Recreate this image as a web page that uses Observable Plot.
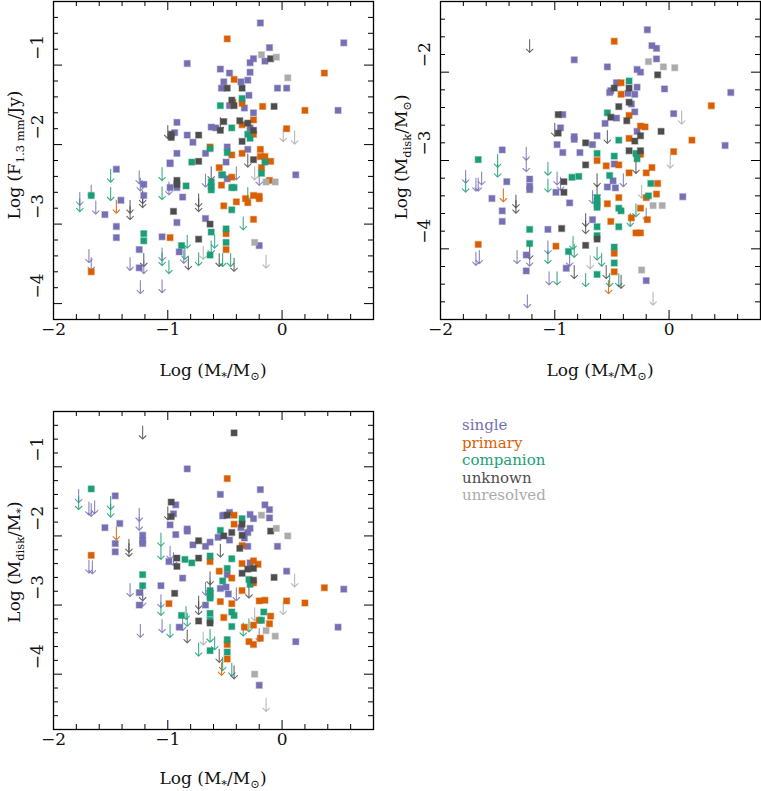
<!DOCTYPE html>
<html><head><meta charset="utf-8">
<script src="https://cdn.jsdelivr.net/npm/d3@7"></script>
<script src="https://cdn.jsdelivr.net/npm/@observablehq/plot@0.6"></script>
<style>
body{margin:0;background:#fff;}
#root{position:relative;width:761px;height:791px;overflow:hidden;background:#fff;font-family:"DejaVu Serif",serif;}
.panel{position:absolute;}
#legend{position:absolute;left:462px;top:417px;font-size:15px;line-height:17.5px;font-family:"DejaVu Serif",serif;}
</style></head><body><div id="root"></div>
<script>
const FONT = "DejaVu Serif";
const classCodes = ["S","P","C","U","R"];
const classNames = ["single","primary","companion","unknown","unresolved"];
const classColors = ["#7570b3","#d95f02","#1b9e77","#4d4d4d","#ababab"];
const xDomain = [-2, 0.8];
const xTicksMajor = [-2, -1, 0];

// Panel 1: Log F(1.3mm) vs Log M*  — detections [x, y, class]
const fluxDetections = [
[-0.19,-0.47,"S"],[-0.48,-0.67,"P"],[0.54,-0.72,"S"],[-0.11,-0.78,"S"],[-0.18,-0.87,"R"],[-0.05,-0.90,"R"],[-0.10,-0.92,"U"],[-0.15,-0.95,"S"],[-0.25,-0.92,"S"],[-0.28,-0.97,"S"],
[-0.83,-0.98,"S"],[-0.54,-1.05,"S"],[-0.28,-1.09,"S"],[-0.46,-1.10,"S"],[0.37,-1.10,"P"],[0.05,-1.16,"R"],[-0.42,-1.18,"P"],[-0.51,-1.21,"S"],[-0.36,-1.21,"S"],[-0.30,-1.19,"S"],
[-0.53,-1.29,"S"],[-0.48,-1.29,"U"],[-0.35,-1.29,"U"],[-0.04,-1.29,"S"],[0.04,-1.29,"S"],[-0.29,-1.38,"S"],[-0.44,-1.44,"U"],[-0.35,-1.42,"C"],[-0.35,-1.48,"P"],[-0.43,-1.47,"P"],
[-0.42,-1.51,"U"],[-0.54,-1.51,"C"],[-0.46,-1.51,"S"],[-0.33,-1.54,"S"],[-0.17,-1.52,"P"],[-0.07,-1.52,"U"],[0.20,-1.57,"P"],[0.49,-1.57,"S"],[-0.25,-1.60,"S"],[-0.51,-1.71,"U"],
[-0.37,-1.70,"U"],[-0.25,-1.69,"P"],[-0.30,-1.73,"U"],[-0.35,-1.75,"P"],[-0.92,-1.72,"S"],[-0.62,-1.78,"S"],[-0.58,-1.79,"S"],[-0.44,-1.79,"C"],[0.04,-1.80,"P"],[-0.25,-1.82,"U"],
[-0.54,-1.82,"U"],[-0.94,-1.85,"S"],[-0.97,-1.87,"U"],[-0.97,-1.91,"U"],[-0.83,-1.88,"S"],[-0.73,-1.88,"U"],[-0.78,-1.97,"S"],[-0.28,-1.79,"S"],[-0.25,-1.87,"P"],[-0.30,-1.87,"C"],
[-0.28,-1.92,"C"],[-0.35,-1.96,"U"],[-0.63,-2.03,"P"],[-0.63,-2.05,"C"],[-0.92,-2.11,"S"],[-0.67,-2.11,"S"],[-0.98,-2.23,"S"],[-0.79,-2.22,"C"],[-0.73,-2.21,"U"],[-0.30,-2.06,"S"],
[-0.19,-2.06,"P"],[-0.48,-2.03,"S"],[-0.48,-2.10,"C"],[-0.44,-2.13,"P"],[-0.35,-2.11,"P"],[-0.19,-2.15,"P"],[-0.15,-2.15,"P"],[-0.10,-2.21,"P"],[-0.25,-2.19,"U"],[-0.15,-2.22,"C"],
[-0.18,-2.29,"P"],[-0.18,-2.36,"C"],[-0.49,-2.22,"S"],[-0.55,-2.29,"P"],[-0.53,-2.38,"S"],[-0.52,-2.38,"C"],[-0.44,-2.41,"P"],[-0.48,-2.43,"S"],[0.12,-2.38,"S"],[-0.11,-2.45,"P"],
[-0.14,-2.47,"R"],[-0.06,-2.47,"R"],[-0.44,-2.54,"C"],[-0.42,-2.54,"C"],[-0.53,-2.51,"P"],[-0.25,-2.64,"P"],[-0.20,-2.65,"P"],[-0.20,-2.68,"P"],[-0.32,-2.68,"P"],[-0.30,-2.73,"P"],
[-0.40,-2.72,"P"],[-0.51,-2.77,"P"],[-0.44,-2.82,"C"],[-0.25,-2.94,"P"],[-0.63,-3.00,"U"],[-0.49,-3.06,"C"],[-0.49,-3.12,"P"],[-0.49,-3.23,"C"],[-0.49,-3.32,"P"],[-0.24,-3.23,"R"],
[-0.20,-3.27,"S"],[-0.63,-3.39,"C"],[-1.45,-2.31,"S"],[-1.41,-2.70,"S"],[-1.67,-2.64,"C"],[-1.55,-2.88,"S"],[-1.45,-3.03,"S"],[-1.45,-3.17,"S"],[-1.21,-2.50,"S"],[-1.21,-2.64,"S"],
[-1.25,-3.32,"S"],[-1.25,-3.55,"S"],[-1.21,-3.12,"C"],[-1.21,-3.21,"C"],[-1.67,-3.60,"P"],[-1.05,-3.16,"S"],[-0.98,-3.17,"P"],[-0.98,-2.24,"S"],[-0.98,-2.54,"S"],[-0.92,-2.45,"U"],
[-0.92,-2.50,"U"],[-0.92,-2.54,"S"],[-0.87,-2.66,"S"],[-0.84,-2.52,"C"],[-0.95,-2.84,"U"],[-0.92,-2.98,"S"],[-0.67,-2.93,"S"],[-0.62,-2.47,"C"],[-0.62,-2.53,"C"],[-0.62,-2.57,"C"],
[-0.62,-3.10,"C"],[-0.73,-3.19,"U"],[-0.88,-3.27,"C"],[-0.90,-3.35,"S"]
];
// Panel 1 upper limits [x, y, class]
const fluxLimits = [
[0.01,-1.80,"R"],[0.11,-1.83,"R"],[-1.00,-1.76,"U"],[-0.54,-1.66,"U"],[-0.30,-2.12,"U"],[-0.24,-2.28,"R"],[-0.40,-2.28,"S"],[-0.20,-2.35,"S"],[-0.67,-2.37,"S"],[-0.62,-2.28,"U"],
[-0.34,-2.91,"C"],[-0.30,-2.54,"C"],[-1.50,-2.31,"C"],[-1.50,-2.54,"C"],[-1.77,-2.60,"S"],[-1.77,-2.68,"C"],[-1.67,-2.51,"S"],[-1.63,-2.71,"S"],[-1.45,-2.70,"P"],[-1.33,-2.70,"U"],
[-1.33,-2.78,"U"],[-1.25,-2.33,"S"],[-1.24,-2.42,"S"],[-1.22,-2.58,"U"],[-1.22,-2.63,"U"],[-1.05,-2.29,"C"],[-1.05,-2.53,"C"],[-0.99,-2.47,"S"],[-0.59,-3.14,"C"],[-0.83,-3.14,"C"],
[-0.85,-3.28,"C"],[-0.62,-3.21,"C"],[-0.69,-3.28,"R"],[-0.73,-3.36,"C"],[-0.82,-3.41,"U"],[-0.99,-3.46,"C"],[-1.05,-3.30,"S"],[-1.05,-3.36,"C"],[-1.05,-3.70,"S"],[-1.24,-3.71,"S"],
[-1.21,-3.37,"U"],[-1.21,-3.46,"S"],[-1.33,-3.42,"S"],[-1.69,-3.32,"S"],[-1.67,-3.42,"S"],[-0.55,-3.37,"U"],[-0.52,-3.37,"C"],[-0.45,-3.37,"C"],[-0.42,-3.43,"U"],[-0.14,-3.39,"R"],
[-0.86,-3.33,"S"],[-0.73,-2.62,"U"],[-0.73,-2.68,"U"]
];

// Panels 2 & 3: [x, Log Mdisk/Msun, Log Mdisk/M*, class]
const massDetections = [
[-0.19,-1.52,-1.33,"S"],[-0.48,-1.65,-1.17,"P"],[-0.15,-1.70,-1.55,"S"],[-0.11,-1.73,-1.62,"S"],[-0.11,-1.85,-1.74,"S"],[-0.18,-1.88,-1.70,"R"],[-0.83,-1.86,-1.03,"S"],[-0.54,-1.94,-1.40,"S"],
[-0.05,-1.94,-1.89,"R"],[0.05,-1.95,-2.00,"R"],[-0.28,-1.97,-1.69,"S"],[-0.25,-2.00,-1.75,"S"],[-0.10,-2.03,-1.93,"U"],[-0.35,-2.10,-1.75,"C"],[-0.46,-2.12,-1.66,"S"],[-0.42,-2.12,-1.70,"P"],
[-0.48,-2.18,-1.70,"U"],[-0.51,-2.21,-1.70,"S"],[-0.52,-2.23,-1.71,"S"],[-0.35,-2.18,-1.83,"U"],[-0.28,-2.17,-1.89,"S"],[-0.04,-2.19,-2.15,"S"],[-0.36,-2.24,-1.88,"S"],[-0.42,-2.25,-1.83,"P"],
[-0.30,-2.25,-1.95,"S"],[0.54,-2.23,-2.77,"S"],[-0.35,-2.34,-1.99,"U"],[-0.33,-2.36,-2.03,"S"],[-0.44,-2.39,-1.95,"U"],[0.37,-2.38,-2.75,"P"],[-0.54,-2.46,-1.92,"C"],[-0.30,-2.45,-2.15,"S"],
[-0.35,-2.49,-2.14,"P"],[0.04,-2.47,-2.51,"S"],[-0.51,-2.51,-2.00,"U"],[-0.46,-2.52,-2.06,"S"],[-0.37,-2.55,-2.18,"U"],[-0.56,-2.58,-2.02,"S"],[-0.97,-2.48,-1.51,"U"],[-0.93,-2.48,-1.55,"S"],
[-0.95,-2.63,-1.68,"S"],[-0.25,-2.61,-2.36,"P"],[-0.21,-2.62,-2.41,"P"],[-0.28,-2.67,-2.39,"S"],[-0.07,-2.67,-2.60,"U"],[-0.97,-2.69,-1.72,"U"],[-0.83,-2.73,-1.90,"S"],[-0.83,-2.76,-1.93,"S"],
[-0.63,-2.72,-2.09,"S"],[-0.25,-2.72,-2.47,"U"],[-0.35,-2.75,-2.40,"P"],[-0.44,-2.77,-2.33,"C"],[-0.30,-2.78,-2.48,"U"],[-0.73,-2.80,-2.07,"U"],[-0.98,-2.82,-1.84,"S"],[-0.67,-2.82,-2.15,"S"],
[0.20,-2.77,-2.97,"P"],[0.49,-2.83,-3.32,"S"],[-0.35,-2.89,-2.54,"U"],[-0.25,-2.89,-2.64,"U"],[-0.63,-2.92,-2.29,"C"],[-0.93,-2.91,-1.98,"S"],[-0.78,-2.91,-2.13,"S"],[0.04,-2.90,-2.94,"P"],
[-0.29,-2.92,-2.63,"C"],[-0.25,-2.93,-2.68,"P"],[-0.48,-2.95,-2.47,"C"],[-0.28,-2.98,-2.70,"C"],[-1.67,-2.99,-1.32,"C"],[-1.46,-2.88,-1.42,"S"],[-0.63,-3.00,-2.37,"P"],[-0.73,-3.05,-2.32,"U"],
[-0.55,-3.06,-2.51,"P"],[-0.44,-3.05,-2.61,"P"],[-0.15,-3.08,-2.93,"P"],[-0.35,-3.14,-2.79,"P"],[-0.20,-3.14,-2.94,"P"],[-0.52,-3.17,-2.65,"C"],[-0.85,-3.19,-2.34,"C"],[-0.79,-3.18,-2.39,"C"],
[-1.22,-3.21,-1.99,"S"],[-1.22,-3.29,-2.07,"S"],[-1.22,-3.33,-2.11,"S"],[-0.92,-3.24,-2.32,"U"],[-0.49,-3.23,-2.74,"S"],[-0.48,-3.04,-2.56,"S"],[-0.16,-3.26,-3.10,"C"],[-0.10,-3.26,-3.16,"P"],
[-1.42,-3.24,-1.82,"S"],[-0.99,-3.36,-2.37,"S"],[-0.92,-3.36,-2.44,"U"],[-0.54,-3.30,-2.76,"S"],[-0.47,-3.31,-2.84,"S"],[-0.11,-3.38,-3.27,"P"],[-0.18,-3.40,-3.22,"C"],[-0.20,-3.42,-3.22,"P"],
[-1.55,-3.43,-1.88,"S"],[-0.63,-3.42,-2.79,"C"],[-0.63,-3.46,-2.83,"C"],[-0.63,-3.50,-2.87,"C"],[-0.63,-3.53,-2.90,"C"],[-0.44,-3.42,-2.98,"P"],[-0.87,-3.48,-2.61,"S"],[-0.54,-3.49,-2.95,"P"],
[-0.14,-3.51,-3.37,"R"],[-0.06,-3.51,-3.45,"R"],[0.12,-3.41,-3.53,"S"],[-0.44,-3.54,-3.10,"C"],[-0.42,-3.57,-3.15,"C"],[-1.46,-3.57,-2.11,"S"],[-0.25,-3.54,-3.29,"P"],[-0.67,-3.67,-3.00,"S"],
[-0.33,-3.65,-3.32,"P"],[-0.19,-3.67,-3.48,"P"],[-0.51,-3.69,-3.18,"P"],[-1.46,-3.69,-2.23,"S"],[-0.63,-3.75,-3.12,"C"],[-0.44,-3.75,-3.31,"C"],[-0.94,-3.77,-2.83,"U"],[-1.06,-3.78,-2.72,"S"],
[-1.22,-3.78,-2.56,"C"],[-0.29,-3.82,-3.53,"P"],[-0.25,-3.82,-3.57,"P"],[-0.63,-3.89,-3.26,"U"],[-0.63,-3.85,-3.22,"C"],[-1.22,-3.94,-2.72,"C"],[-1.67,-3.95,-2.28,"P"],[-0.73,-3.96,-3.23,"U"],
[-0.99,-3.97,-2.98,"P"],[-0.48,-3.98,-3.50,"C"],[-0.88,-4.03,-3.15,"C"],[-0.48,-4.05,-3.57,"P"],[-1.25,-4.07,-2.82,"S"],[-0.48,-4.16,-3.68,"C"],[-0.90,-4.22,-3.32,"S"],[-0.24,-4.24,-4.00,"R"],
[-0.48,-4.26,-3.78,"P"],[-1.25,-4.25,-3.00,"S"],[-0.63,-4.29,-3.66,"C"],[-0.20,-4.36,-4.16,"S"],[-0.42,-0.93,-0.51,"U"]
];
const massLimits = [
[-1.22,-1.63,-0.41,"U"],[-1.00,-2.58,-1.58,"U"],[0.11,-2.44,-2.55,"R"],[-0.54,-2.66,-2.12,"U"],[0.01,-2.94,-2.95,"R"],[-0.29,-3.00,-2.71,"U"],[-1.25,-2.85,-1.60,"S"],[-1.25,-2.98,-1.73,"S"],
[-1.50,-2.93,-1.43,"C"],[-1.50,-3.04,-1.54,"C"],[-1.78,-3.11,-1.33,"S"],[-1.78,-3.21,-1.43,"C"],[-1.67,-3.20,-1.53,"S"],[-1.64,-3.13,-1.49,"S"],[-1.69,-3.20,-1.51,"S"],[-1.45,-3.32,-1.87,"P"],
[-1.34,-3.39,-2.05,"U"],[-1.34,-3.45,-2.11,"U"],[-1.06,-3.02,-1.96,"C"],[-1.06,-3.21,-2.15,"C"],[-0.98,-3.13,-2.15,"S"],[-0.95,-3.19,-2.24,"S"],[-0.63,-3.15,-2.52,"U"],[-0.63,-3.28,-2.65,"U"],
[-0.40,-3.15,-2.75,"S"],[-0.67,-3.34,-2.67,"S"],[-0.24,-3.28,-3.04,"R"],[-0.29,-3.49,-3.20,"C"],[-0.34,-3.60,-3.26,"C"],[-0.20,-3.54,-3.34,"S"],[-0.73,-3.60,-2.87,"U"],[-0.73,-3.68,-2.95,"U"],
[-0.84,-3.86,-3.02,"C"],[-0.83,-3.95,-3.12,"C"],[-0.87,-4.05,-3.18,"S"],[-1.33,-4.02,-2.69,"S"],[-1.22,-3.97,-2.75,"U"],[-1.22,-4.05,-2.83,"S"],[-1.69,-4.04,-2.35,"S"],[-1.66,-4.02,-2.36,"S"],
[-1.06,-3.91,-2.85,"S"],[-1.06,-4.02,-2.96,"C"],[-0.83,-4.19,-3.36,"U"],[-1.05,-4.26,-3.21,"S"],[-0.98,-4.26,-3.28,"C"],[-1.24,-4.52,-3.28,"S"],[-0.73,-4.28,-3.55,"C"],[-0.69,-4.08,-3.39,"R"],
[-0.63,-3.98,-3.35,"C"],[-0.59,-4.05,-3.46,"C"],[-0.55,-4.19,-3.64,"U"],[-0.52,-4.28,-3.76,"C"],[-0.44,-4.28,-3.84,"C"],[-0.53,-4.36,-3.83,"P"],[-0.42,-4.30,-3.88,"U"],[-0.14,-4.49,-4.35,"R"]
];

const fmt = d => d < 0 ? "\u2212" + Math.abs(d) : String(d);
function minorTicks(lo, hi) {
  return d3.range(Math.round(lo * 5) + 1, Math.round(hi * 5)).map(k => k / 5)
    .filter(v => Math.abs(v - Math.round(v)) > 1e-6);
}
const order = c => classCodes.indexOf(c);

function makePanel({det, lim, yDomain, yMajor, marginTop, marginBottom, width, height, marginRight}) {
  const marginLeft = 53;
  const W = width - marginLeft - marginRight, H = height - marginTop - marginBottom;
  const xMinor = minorTicks(xDomain[0], xDomain[1]);
  const yMinor = minorTicks(yDomain[0], yDomain[1]);
  const dets = det.slice().sort((a, b) => order(a.c) - order(b.c));
  const common = {stroke: "#000", strokeWidth: 1};
  return Plot.plot({
    width, height, marginLeft, marginRight, marginTop, marginBottom,
    x: {domain: xDomain, axis: null},
    y: {domain: yDomain, axis: null},
    color: {domain: classCodes, range: classColors},
    style: {background: "transparent", fontFamily: FONT, color: "#111"},
    marks: [
      Plot.ruleX(xTicksMajor, {...common, insetTop: H - 9}),
      Plot.ruleX(xTicksMajor, {...common, insetBottom: H - 9}),
      Plot.ruleX(xMinor, {...common, insetTop: H - 5}),
      Plot.ruleX(xMinor, {...common, insetBottom: H - 5}),
      Plot.ruleY(yMajor, {...common, insetRight: W - 9}),
      Plot.ruleY(yMajor, {...common, insetLeft: W - 9}),
      Plot.ruleY(yMinor, {...common, insetRight: W - 5}),
      Plot.ruleY(yMinor, {...common, insetLeft: W - 5}),
      Plot.vector(lim, {x: "x", y: "y", stroke: "c", rotate: 180, length: 13, anchor: "start", r: 4.4, strokeWidth: 1.1, strokeOpacity: 0.85, clip: true}),
      Plot.dot(dets, {x: "x", y: "y", symbol: "square", r: 3.4, fill: "c", stroke: "c", strokeOpacity: 0.4, strokeWidth: 1.3, clip: true}),
      Plot.frame({stroke: "#000", strokeWidth: 1.3}),
      Plot.text(xTicksMajor, {x: d => d, frameAnchor: "bottom", dy: 15, text: fmt, fontSize: 17, fill: "#111"}),
      Plot.text(yMajor, {y: d => d, frameAnchor: "left", dx: -16, dy: -5, rotate: -90, text: fmt, fontSize: 17, fill: "#111"})
    ]
  });
}

function addTitle(svg, x, y, rotate, parts) {
  const t = d3.select(svg).append("text")
    .attr("transform", `translate(${x},${y}) rotate(${rotate})`)
    .attr("text-anchor", "middle").attr("font-size", 17)
    .attr("font-family", FONT).attr("fill", "#111");
  let sub = false;
  for (const [s, isSub] of parts) {
    const ts = t.append("tspan").text(s);
    if (isSub && !sub) ts.attr("dy", 4);
    if (!isSub && sub) ts.attr("dy", -4);
    if (isSub) ts.attr("font-size", 11.5);
    sub = isSub;
  }
}
const xTitle = [["Log (M", false], ["*", true], ["/M", false], ["\u2299", true], [")", false]];

const root = document.getElementById("root");
function place(svg, left, top) {
  svg.classList.add("panel");
  svg.style.left = left + "px";
  svg.style.top = top + "px";
  root.appendChild(svg);
}

const p1 = makePanel({
  det: fluxDetections.map(([x, y, c]) => ({x, y, c})),
  lim: fluxLimits.map(([x, y, c]) => ({x, y, c})),
  yDomain: [-4.2, -0.2], yMajor: [-4, -3, -2, -1],
  marginTop: 1, marginBottom: 72, width: 381, height: 391, marginRight: 8
});
addTitle(p1, 213, 376, 0, xTitle);
addTitle(p1, 20, 155, -90, [["Log (F", false], ["1.3 mm", true], ["/Jy)", false]]);
place(p1, 0, 0);

const p2 = makePanel({
  det: massDetections.map(([x, y, y3, c]) => ({x, y, c})),
  lim: massLimits.map(([x, y, y3, c]) => ({x, y, c})),
  yDomain: [-4.8, -1.2], yMajor: [-4, -3, -2],
  marginTop: 1, marginBottom: 72, width: 374, height: 391, marginRight: 1
});
addTitle(p2, 213, 376, 0, xTitle);
addTitle(p2, 20, 157, -90, [["Log (M", false], ["disk", true], ["/M", false], ["\u2299", true], [")", false]]);
place(p2, 387, 0);

const p3 = makePanel({
  det: massDetections.map(([x, y2, y, c]) => ({x, y, c})),
  lim: massLimits.map(([x, y2, y, c]) => ({x, y, c})),
  yDomain: [-4.8, -0.2], yMajor: [-4, -3, -2, -1],
  marginTop: 11, marginBottom: 62, width: 381, height: 391, marginRight: 8
});
addTitle(p3, 213, 384, 0, xTitle);
addTitle(p3, 20, 162, -90, [["Log (M", false], ["disk", true], ["/M", false], ["*", true], [")", false]]);
place(p3, 0, 400);

const legend = document.createElement("div");
legend.id = "legend";
classNames.forEach((name, i) => {
  const d = document.createElement("div");
  d.textContent = name;
  d.style.color = classColors[i];
  legend.appendChild(d);
});
root.appendChild(legend);
</script></body></html>
